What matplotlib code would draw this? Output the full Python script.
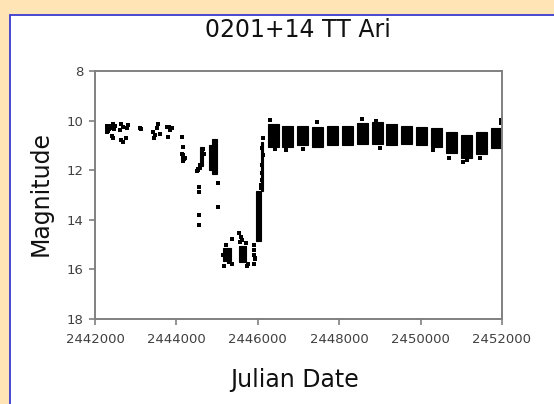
import matplotlib
matplotlib.use("Agg")
import matplotlib.pyplot as plt
from matplotlib.patches import Rectangle

# ---- data ----
# individual observations (Julian Date, magnitude)
pt_jd = [2442290, 2442300, 2442310, 2442320, 2442335, 2442345, 2442360, 2442300, 2442440,
         2442455, 2442470, 2442480, 2442442, 2442425,
         2442650, 2442700, 2442620, 2442780, 2442800, 2442640, 2442760, 2442700,
         2443106, 2443120,
         2443548, 2443530, 2443425, 2443474, 2443597, 2443450,
         2443769, 2443820, 2443892, 2443850, 2443794,
         2444138, 2444162, 2444140, 2444160, 2444185, 2444150, 2444200, 2444170,
         2444540, 2444510, 2444525, 2444570, 2444590, 2444660, 2444670,
         2444555, 2444555, 2444555, 2444555,
         2445022, 2445022,
         2445366, 2445366, 2445220, 2445140, 2445300, 2445180,
         2445540, 2445590, 2445570, 2445620, 2445700, 2445760, 2445740,
         2445900, 2445910, 2445895, 2445920, 2445905, 2445930,
         2446080, 2446095, 2446100, 2446110, 2446120, 2446128, 2446105, 2446090,
         2446300, 2446420, 2446700, 2447100, 2447450, 2448550, 2448900, 2449000,
         2450300, 2450700, 2451050, 2451150, 2451450, 2451985, 2451985]
pt_mag = [10.20, 10.30, 10.25, 10.40, 10.20, 10.35, 10.30, 10.45, 10.15,
          10.25, 10.35, 10.20, 10.70, 10.62,
          10.14, 10.26, 10.38, 10.30, 10.16, 10.78, 10.70, 10.86,
          10.30, 10.35,
          10.14, 10.30, 10.46, 10.58, 10.54, 10.70,
          10.26, 10.26, 10.30, 10.38, 10.66,
          10.66, 11.06, 11.35, 11.45, 11.55, 11.62, 11.50, 11.40,
          11.95, 12.05, 12.00, 11.90, 11.80, 11.15, 11.35,
          12.68, 12.88, 13.81, 14.21,
          12.52, 13.48,
          14.78, 15.80, 15.00, 15.40, 15.72, 15.85,
          14.53, 14.69, 14.90, 14.80, 14.95, 15.80, 15.85,
          15.00, 15.20, 15.40, 15.60, 15.78, 15.55,
          12.70, 12.40, 12.10, 11.80, 11.40, 10.70, 11.10, 12.60,
          9.98, 11.15, 11.20, 11.15, 10.05, 9.95, 10.00, 11.12,
          11.20, 11.50, 11.65, 11.60, 11.50, 9.98, 10.10]

# dense groups of observations: JD range and magnitude range
blk_jd0 = [2444585, 2444790, 2444880, 2445150, 2445540, 2445945, 2446075,
           2446240, 2446605, 2446970, 2447336, 2447701, 2448066, 2448431, 2448796,
           2449162, 2449527, 2449892, 2450257, 2450622, 2450988, 2451353, 2451718]
blk_jd1 = [2444655, 2444880, 2444990, 2445330, 2445720, 2446090, 2446125,
           2446510, 2446875, 2447240, 2447606, 2447971, 2448336, 2448701, 2449066,
           2449432, 2449797, 2450162, 2450527, 2450892, 2451258, 2451623, 2451990]
blk_top = [11.05, 11.00, 10.75, 15.15, 15.05, 12.85, 10.85,
           10.15, 10.20, 10.20, 10.25, 10.20, 10.20, 10.10, 10.05,
           10.15, 10.20, 10.25, 10.30, 10.45, 10.60, 10.45, 10.30]
blk_bot = [11.85, 12.00, 12.15, 15.65, 15.70, 14.85, 12.85,
           11.05, 11.05, 11.00, 11.05, 11.00, 11.00, 10.95, 10.95,
           11.00, 10.95, 11.00, 11.05, 11.30, 11.50, 11.35, 11.10]

x_ticks = [2442000, 2444000, 2446000, 2448000, 2450000, 2452000]
y_ticks = [8, 10, 12, 14, 16, 18]

title = "0201+14 TT Ari"
x_label = "Julian Date"
y_label = "Magnitude"

# ---- figure ----
W, H = 554, 404
fig = plt.figure(figsize=(W / 100, H / 100), dpi=100)
fig.patch.set_facecolor("#FFE5B6")
panel = Rectangle((10 / W, -0.05), 1.2, (H - 15) / H + 0.05,
                  transform=fig.transFigure, facecolor="white",
                  edgecolor="#3A3ACF", linewidth=1.3, zorder=-10)
fig.patches.append(panel)

ax = fig.add_axes([95 / W, (H - 319) / H, (502 - 95) / W, (319 - 71) / H])
ax.set_zorder(5)
ax.set_facecolor("white")

heights = [b - t for t, b in zip(blk_top, blk_bot)]
widths = [e - s for s, e in zip(blk_jd0, blk_jd1)]
ax.bar(blk_jd0, heights, width=widths, bottom=blk_top, align="edge",
       color="black", edgecolor="black", linewidth=0.8)
ax.plot(pt_jd, pt_mag, linestyle="none", marker="s", markersize=2.2,
        color="black", markeredgewidth=0)

ax.set_xlim(2442000, 2452000)
ax.set_ylim(18, 8)
ax.set_xticks(x_ticks)
ax.set_yticks(y_ticks)
ax.set_xticklabels([str(v) for v in x_ticks])
ax.set_yticklabels([str(v) for v in y_ticks])

for s in ax.spines.values():
    s.set_color("#808080")
    s.set_linewidth(1.4)
ax.tick_params(axis="both", direction="out", length=4, width=1.2, color="#808080",
               labelsize=9.5, labelcolor="#404040")
ax.tick_params(axis="x", pad=6)
ax.tick_params(axis="y", pad=4)

fig.text(298 / W, (H - 30) / H, title, ha="center", va="center",
         fontsize=17, family="DejaVu Sans", color="#111111", zorder=6)
fig.text(295 / W, (H - 380) / H, x_label, ha="center", va="center",
         fontsize=17, family="DejaVu Sans", color="#111111", zorder=6)
fig.text(41 / W, (H - 193) / H, y_label, ha="center", va="center", rotation=90,
         fontsize=17, family="DejaVu Sans", color="#111111", zorder=6)

fig.savefig("out.png", dpi=100, facecolor=fig.get_facecolor())
